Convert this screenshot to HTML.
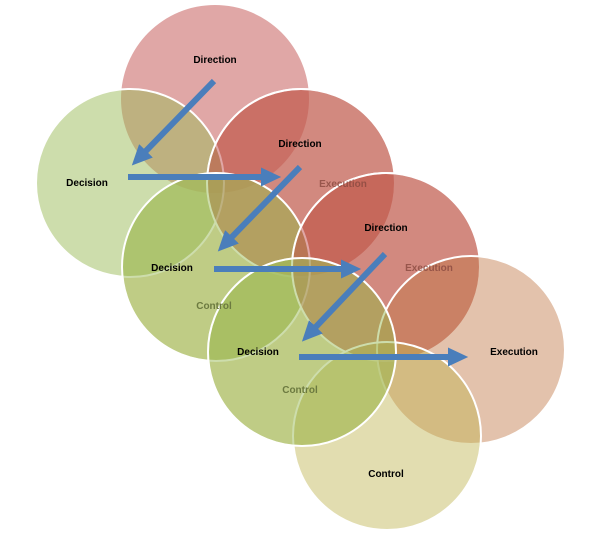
<!DOCTYPE html>
<html><head><meta charset="utf-8"><style>
html,body{margin:0;padding:0;background:#fff;}
svg{display:block;}
text{font-family:"Liberation Sans",sans-serif;font-size:10px;font-weight:bold;text-anchor:middle;}
</style></head><body>
<svg width="600" height="533" viewBox="0 0 600 533" xmlns="http://www.w3.org/2000/svg">
<defs>
<marker id="ah" markerWidth="4" markerHeight="4" refX="1.2" refY="2" orient="auto" markerUnits="strokeWidth">
<path d="M0,0.4 L3.4,2 L0,3.6 Z" fill="#4a7ebb"/>
</marker>
</defs>
<g stroke="#fff" stroke-width="2">
<circle cx="215" cy="99" r="94" fill="rgba(194,80,77,0.5)" stroke="none"/>
<circle cx="301" cy="183" r="94" fill="rgba(192,120,80,0.45)"/>
<circle cx="216" cy="267" r="94" fill="rgba(190,180,80,0.45)"/>
<circle cx="130" cy="183" r="94" fill="rgba(155,187,89,0.5)"/>
<circle cx="301" cy="183" r="94" fill="rgba(194,80,77,0.5)"/>
<circle cx="386" cy="267" r="94" fill="rgba(192,120,80,0.45)"/>
<circle cx="302" cy="352" r="94" fill="rgba(190,180,80,0.45)"/>
<circle cx="216" cy="267" r="94" fill="rgba(155,187,89,0.5)"/>
<circle cx="386" cy="267" r="94" fill="rgba(194,80,77,0.5)"/>
<circle cx="471" cy="350" r="94" fill="rgba(192,120,70,0.45)"/>
<circle cx="387" cy="436" r="94" fill="rgba(190,180,80,0.45)"/>
<circle cx="302" cy="352" r="94" fill="rgba(155,187,89,0.5)"/>
</g>
<text x="215" y="63">Direction</text>
<text x="300" y="147">Direction</text>
<text x="386" y="231">Direction</text>
<text x="87" y="186">Decision</text>
<text x="172" y="271">Decision</text>
<text x="258" y="355">Decision</text>
<text x="343" y="187" fill="#8a4a40" font-weight="normal" opacity="0.8">Execution</text>
<text x="429" y="271" fill="#8a4a40" font-weight="normal" opacity="0.8">Execution</text>
<text x="514" y="355">Execution</text>
<text x="214" y="309" fill="#6c7a40" font-weight="normal">Control</text>
<text x="300" y="393" fill="#6c7a40" font-weight="normal">Control</text>
<text x="386" y="477">Control</text>
<g stroke="#4a7ebb" stroke-width="6" fill="none" marker-end="url(#ah)">
<line x1="214" y1="81" x2="141" y2="156"/>
<line x1="128" y1="177" x2="268" y2="177"/>
<line x1="300" y1="167" x2="227" y2="242"/>
<line x1="214" y1="269" x2="348" y2="269"/>
<line x1="385" y1="254" x2="311" y2="332"/>
<line x1="299" y1="357" x2="455" y2="357"/>
</g>
</svg>
</body></html>
